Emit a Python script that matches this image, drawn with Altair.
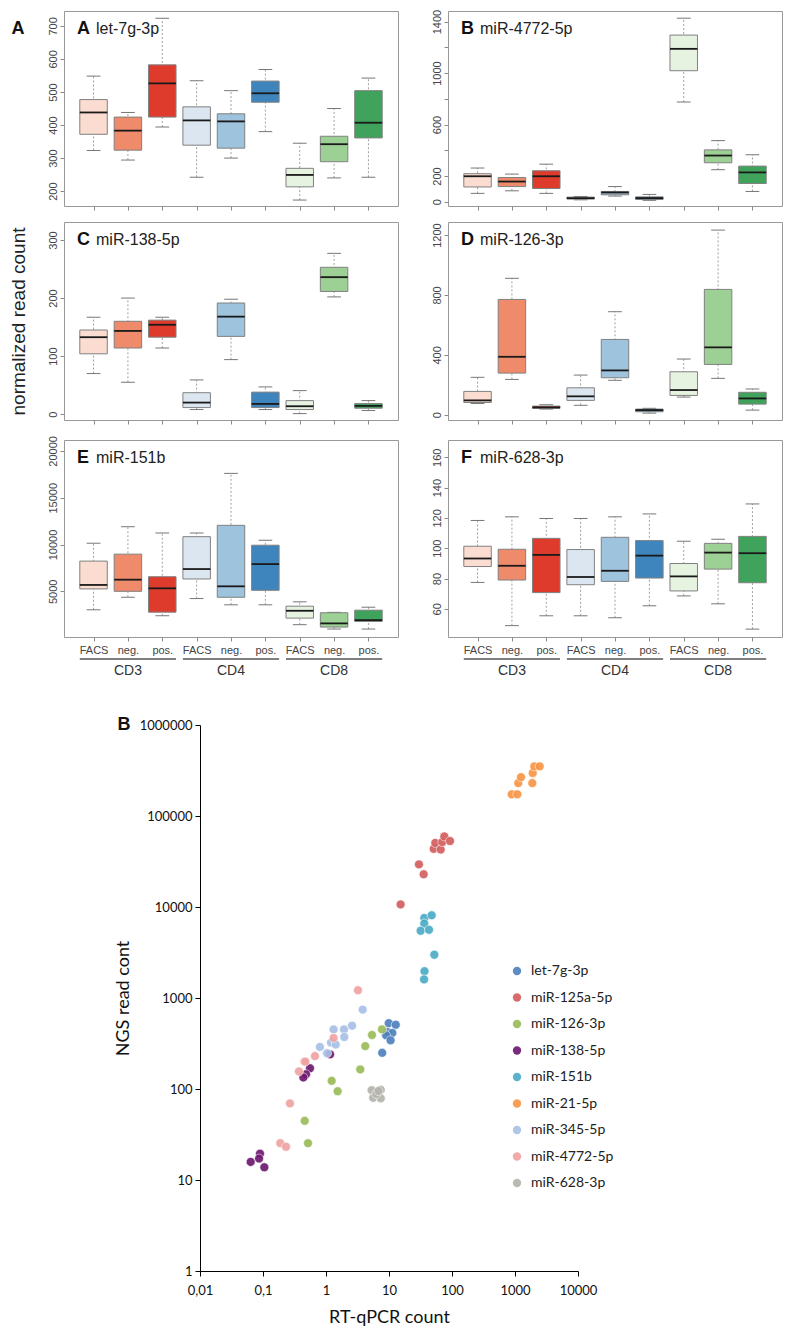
import json
import altair as alt
import pandas as pd

# ---------------- data: box-plot panels ----------------
cells = ["CD3", "CD4", "CD8"]
subsets = ["FACS", "neg.", "pos."]
box_colors = ["#FBDCD0", "#EF8A6B", "#DE3B2C",
              "#DCE6F0", "#9DC3DD", "#3E85BD",
              "#E5F3E0", "#9DD094", "#3FA35B"]

panel_letters = ["A", "B", "C", "D", "E", "F"]
panel_names = ["let-7g-3p", "miR-4772-5p", "miR-138-5p", "miR-126-3p", "miR-151b", "miR-628-3p"]
figure_labels = ["A", "B"]
y_title = "normalized read count"

A_lo = [323, 294, 394, 242, 300, 380, 173, 240, 242]
A_q1 = [372, 324, 424, 339, 330, 469, 213, 289, 361]
A_med = [438, 383, 526, 414, 411, 496, 249, 342, 407]
A_q3 = [477, 424, 582, 455, 434, 533, 269, 366, 504]
A_hi = [548, 438, 723, 534, 504, 568, 345, 450, 542]

B_lo = [65, 85, 65, 15, 44, 11, 775, 249, 80]
B_q1 = [115, 118, 103, 21, 54, 18, 1018, 303, 142]
B_med = [198, 157, 198, 28, 72, 28, 1188, 359, 228]
B_q3 = [218, 188, 241, 36, 80, 38, 1295, 403, 277]
B_hi = [262, 215, 292, 41, 118, 57, 1426, 475, 365]

C_lo = [70, 55, 114, 8, 94, 8, 1, 202, 6.3]
C_q1 = [104, 114, 132.6, 11.4, 134, 11.4, 8, 211.4, 10.3]
C_med = [132.6, 143.4, 154, 20, 168, 17.7, 13.7, 236, 14.3]
C_q3 = [145, 160, 162, 37, 191.5, 38, 23.4, 253, 18.3]
C_hi = [167, 200, 167, 59, 198, 47, 40.6, 277, 23.4]

D_lo = [75, 236, 38, 63, 230, 11, 118, 243, 31]
D_q1 = [82, 278, 43, 96, 247, 20, 129, 336, 71]
D_med = [96, 387, 49, 123, 296, 31, 165, 450, 109]
D_q3 = [156, 770, 58, 180, 503, 38, 287, 837, 150]
D_hi = [250, 911, 67, 265, 688, 43, 372, 1233, 172]

E_lo = [3025, 4363, 2389, 4225, 3556, 3556, 1433, 966, 966]
E_q1 = [5255, 5000, 2771, 6316, 4363, 5106, 2134, 1178, 1783]
E_med = [5679, 6242, 5318, 7378, 5531, 7909, 2919, 1571, 1921]
E_q3 = [8227, 8970, 6560, 10839, 12049, 9926, 3408, 2707, 2983]
E_hi = [10138, 11900, 11231, 11231, 17600, 10456, 3875, 2750, 3301]

F_lo = [77.4, 48.9, 55.4, 55.4, 54.1, 62, 68.5, 63.3, 46.6]
F_q1 = [87.9, 79, 70.7, 75.9, 78.1, 80.3, 71.8, 86.2, 77.2]
F_med = [93.2, 88.4, 95.6, 81, 85.1, 95.1, 81.4, 97.1, 96.7]
F_q3 = [101.3, 99.3, 106.5, 99.1, 107.2, 105, 89.9, 103.2, 107.8]
F_hi = [118.3, 120.7, 119.6, 119.6, 120.7, 122.6, 104.6, 105.9, 129.2]

A_ticks = [200, 300, 400, 500, 600, 700]
B_ticks = [0, 200, 400, 600, 800, 1000, 1200, 1400]
B_shown = [0, 200, 600, 1000, 1400]
C_ticks = [0, 100, 200, 300]
D_ticks = [0, 400, 800, 1200]
E_ticks = [5000, 10000, 15000, 20000]
F_ticks = [60, 80, 100, 120, 140, 160]

# ---------------- data: scatter ----------------
mirnas = ["let-7g-3p", "miR-125a-5p", "miR-126-3p", "miR-138-5p", "miR-151b",
          "miR-21-5p", "miR-345-5p", "miR-4772-5p", "miR-628-3p"]
mirna_colors = ["#4F81BD", "#D35F5F", "#9BBB59", "#6E1A70", "#4BACC6",
                "#F79646", "#A9C1E6", "#EFA3A3", "#B4B4AC"]

let7g_x = [9.9, 12.8, 9.5, 11.3, 9.0, 10.6, 7.8]
let7g_y = [529, 508, 422, 413, 389, 343, 250]
mir125a_x = [15.3, 29.9, 35.5, 51.2, 54.3, 66.2, 70.2, 75.5, 93]
mir125a_y = [10670, 29400, 22900, 43500, 50600, 42800, 51800, 59700, 53100]
mir126_x = [7.74, 5.37, 4.2, 3.5, 1.23, 1.53, 0.459, 0.518]
mir126_y = [452, 392, 296, 164, 123, 94.5, 44.7, 25.4]
mir138_x = [1.16, 0.557, 0.482, 0.437, 0.0896, 0.0866, 0.0637, 0.105]
mir138_y = [240, 169, 145, 134, 19.5, 17.2, 15.8, 13.8]
mir151b_x = [36.3, 47.6, 36.3, 31.8, 43.1, 52.4, 36.6, 36.0]
mir151b_y = [7590, 8110, 6580, 5480, 5620, 2990, 1970, 1600]
mir21_x = [887, 1088, 1128, 1245, 1883, 1910, 2024, 2466]
mir21_y = [173000, 173000, 230000, 267000, 230000, 297000, 351000, 351000]
mir345_x = [3.82, 2.59, 1.93, 1.32, 1.95, 1.2, 1.43, 0.80, 1.04]
mir345_y = [745, 496, 452, 452, 373, 324, 308, 290, 247]
mir4772_x = [3.22, 1.32, 0.668, 0.453, 0.47, 0.372, 0.268, 0.188, 0.232]
mir4772_y = [1217, 364, 230, 200, 200, 156, 69.5, 25.4, 23.2]
mir628_x = [5.3, 7.4, 5.6, 7.4, 6.3, 6.8]
mir628_y = [97, 98, 80, 79, 88, 95]

x_ticks = [0.01, 0.1, 1, 10, 100, 1000, 10000]
y_ticks = [1, 10, 100, 1000, 10000, 100000, 1000000]

FONT = "Liberation Sans"
SFONT = "Lato"


def box_panel(i, lo, q1, med, q3, hi, ydom, yticks, yshown, width, height, left, bottom):
    df = pd.DataFrame({
        "cell": [c for c in cells for _ in subsets],
        "subset": [s for _ in cells for s in subsets],
        "lo": lo, "q1": q1, "med": med, "q3": q3, "hi": hi,
    })
    df["key"] = df["cell"] + " " + df["subset"]
    keys = list(df["key"])

    xs = alt.Scale(domain=[0.14, 9.86], nice=False, zero=False)
    ys = alt.Scale(domain=ydom, nice=False, zero=False)
    if left:
        ttl = y_title if i == 2 else " "
    else:
        ttl = None
    yax = alt.Axis(values=yticks, format="d",
                   labelExpr="indexof(%s, datum.value) >= 0 ? datum.label : ''" % json.dumps(yshown),
                   labelAngle=270, labelFontSize=11, labelFont=FONT, labelColor="#444",
                   tickColor="#8a8a8a", tickSize=4, labelPadding=2, domain=False, grid=False,
                   labelOverlap=False, title=ttl, titleFont=FONT, titleFontSize=19,
                   titleFontWeight="normal", titleColor="#222", titlePadding=19)
    xax = alt.Axis(values=list(range(1, 10)), labels=bottom,
                   labelExpr="%s[(datum.value - 1) %% 3]" % json.dumps(subsets),
                   labelFlush=False, labelOverlap=False, labelFontSize=11, labelFont=FONT,
                   labelColor="#444", labelPadding=3, tickColor="#8a8a8a", tickSize=4,
                   domain=False, grid=False, title=None)

    base = alt.Chart(df).transform_window(pos="row_number()").transform_calculate(
        b0="datum.pos - 0.4", b1="datum.pos + 0.4",
        c0="datum.pos - 0.2", c1="datum.pos + 0.2")

    whisk = base.mark_rule(color="#888", strokeDash=[2, 2], strokeWidth=0.8).encode(
        x=alt.X("pos:Q", scale=xs, axis=xax),
        y=alt.Y("lo:Q", scale=ys, axis=yax), y2="hi:Q")
    caplo = base.mark_rule(color="#777", strokeWidth=1).encode(
        x=alt.X("c0:Q", scale=xs, axis=xax), x2="c1:Q",
        y=alt.Y("lo:Q", scale=ys, axis=yax))
    caphi = base.mark_rule(color="#777", strokeWidth=1).encode(
        x=alt.X("c0:Q", scale=xs, axis=xax), x2="c1:Q",
        y=alt.Y("hi:Q", scale=ys, axis=yax))
    box = base.mark_bar(stroke="#808080", strokeWidth=1).encode(
        x=alt.X("b0:Q", scale=xs, axis=xax), x2="b1:Q",
        y=alt.Y("q1:Q", scale=ys, axis=yax), y2="q3:Q",
        color=alt.Color("key:N", scale=alt.Scale(domain=keys, range=box_colors), legend=None))
    medr = base.mark_rule(color="#1a1a1a", strokeWidth=1.8).encode(
        x=alt.X("b0:Q", scale=xs, axis=xax), x2="b1:Q",
        y=alt.Y("med:Q", scale=ys, axis=yax))

    lt = alt.Chart(pd.DataFrame({"t": [panel_letters[i]]})).mark_text(
        align="left", baseline="alphabetic", font=FONT, fontSize=18, fontWeight="bold",
        color="#111").encode(x=alt.value(13), y=alt.value(23), text="t:N")
    nt = alt.Chart(pd.DataFrame({"t": [panel_names[i]]})).mark_text(
        align="left", baseline="alphabetic", font=FONT, fontSize=16, color="#222").encode(
        x=alt.value(32), y=alt.value(23), text="t:N")

    layers = [whisk, caplo, caphi, box, medr, lt, nt]

    if i == 0:
        fig = alt.Chart(pd.DataFrame({"t": [figure_labels[0]]})).mark_text(
            align="center", baseline="alphabetic", font=FONT, fontSize=18, fontWeight="bold",
            color="#111").encode(x=alt.value(-46), y=alt.value(23), text="t:N")
        layers.append(fig)

    if bottom:
        gdf = pd.DataFrame({"cell": cells})
        gbase = alt.Chart(gdf).transform_window(gi="row_number()").transform_calculate(
            s="(datum.gi - 1) * 3 + 1 - 0.4",
            e="(datum.gi - 1) * 3 + 3 + 0.4",
            m="(datum.gi - 1) * 3 + 2")
        grule = gbase.mark_rule(color="#555", strokeWidth=1.5).encode(
            x=alt.X("s:Q", scale=xs, axis=xax), x2="e:Q", y=alt.value(height + 22))
        gtext = gbase.mark_text(font=FONT, fontSize=14, color="#333", baseline="middle").encode(
            x=alt.X("m:Q", scale=xs, axis=xax), y=alt.value(height + 34), text="cell:N")
        layers += [grule, gtext]

    return alt.layer(*layers).properties(
        width=width, height=height,
        view=alt.ViewBackground(stroke="#999", strokeWidth=1))


W_L, W_R = 334, 334
pA = box_panel(0, A_lo, A_q1, A_med, A_q3, A_hi, [155, 745], A_ticks, A_ticks, W_L, 195, True, False)
pB = box_panel(1, B_lo, B_q1, B_med, B_q3, B_hi, [-33, 1482], B_ticks, B_shown, W_R, 195, False, False)
pC = box_panel(2, C_lo, C_q1, C_med, C_q3, C_hi, [-10, 331], C_ticks, C_ticks, W_L, 198, True, False)
pD = box_panel(3, D_lo, D_q1, D_med, D_q3, D_hi, [-35, 1287], D_ticks, D_ticks, W_R, 198, False, False)
pE = box_panel(4, E_lo, E_q1, E_med, E_q3, E_hi, [117, 21168], E_ticks, E_ticks, W_L, 197, True, True)
pF = box_panel(5, F_lo, F_q1, F_med, F_q3, F_hi, [41.4, 171.4], F_ticks, F_ticks, W_R, 197, False, True)

top = alt.vconcat(
    alt.hconcat(pA, pB, spacing=31),
    alt.hconcat(pC, pD, spacing=31),
    alt.hconcat(pE, pF, spacing=31),
    spacing=10,
)

# ---------------- scatter ----------------
series = [
    ("let-7g-3p", let7g_x, let7g_y),
    ("miR-125a-5p", mir125a_x, mir125a_y),
    ("miR-126-3p", mir126_x, mir126_y),
    ("miR-138-5p", mir138_x, mir138_y),
    ("miR-151b", mir151b_x, mir151b_y),
    ("miR-21-5p", mir21_x, mir21_y),
    ("miR-345-5p", mir345_x, mir345_y),
    ("miR-4772-5p", mir4772_x, mir4772_y),
    ("miR-628-3p", mir628_x, mir628_y),
]
rows = []
for name, xv, yv in series:
    for a, b in zip(xv, yv):
        rows.append({"miRNA": name, "qpcr": a, "ngs": b})
sdf = pd.DataFrame(rows)

pts = alt.Chart(sdf).mark_circle(size=80, opacity=0.92, stroke="white", strokeWidth=0.6).encode(
    x=alt.X("qpcr:Q", scale=alt.Scale(type="log", domain=[0.01, 10000], nice=False),
            axis=alt.Axis(values=x_ticks, labelExpr="replace(toString(datum.value), '.', ',')",
                          title="RT-qPCR count", labelFont=SFONT, labelFontSize=13, labelColor="#111",
                          labelPadding=8, labelFlush=False, labelOverlap=False,
                          tickColor="#000", tickSize=5, domainColor="#000", grid=False,
                          titleFont=SFONT, titleFontSize=18, titleFontWeight="normal",
                          titleColor="#111", titlePadding=11)),
    y=alt.Y("ngs:Q", scale=alt.Scale(type="log", domain=[1, 1000000], nice=False),
            axis=alt.Axis(values=y_ticks, labelExpr="toString(datum.value)",
                          title="NGS read cont", labelFont=SFONT, labelFontSize=13, labelColor="#111",
                          labelPadding=3, labelFlush=False, labelOverlap=False,
                          tickColor="#000", tickSize=5, domainColor="#000", grid=False,
                          titleFont=SFONT, titleFontSize=18, titleFontWeight="normal",
                          titleColor="#111", titlePadding=7)),
    color=alt.Color("miRNA:N", scale=alt.Scale(domain=mirnas, range=mirna_colors),
                    legend=alt.Legend(title=None, orient="none", legendX=446, legendY=239,
                                      labelFont=SFONT, labelFontSize=14, labelColor="#222",
                                      symbolType="circle", symbolSize=70, symbolOpacity=0.92,
                                      symbolStrokeWidth=0, rowPadding=12.5, labelOffset=7,
                                      padding=0)),
)
blab = alt.Chart(pd.DataFrame({"t": [figure_labels[1]]})).mark_text(
    align="center", baseline="middle", font=FONT, fontSize=18, fontWeight="bold",
    color="#111").encode(x=alt.value(-76), y=alt.value(0), text="t:N")

scatter = alt.layer(pts, blab).properties(width=378, height=546)

spacer = alt.Chart(pd.DataFrame({"v": [0]})).mark_point(opacity=0, size=1).encode(
    x=alt.value(10), y=alt.value(0)).properties(width=28, height=2)

chart = alt.vconcat(
    top,
    alt.hconcat(spacer, scatter, spacing=20),
    spacing=36,
).resolve_scale(color="independent").properties(
    padding=0, background="white").configure_view(stroke="transparent")

chart.save("out.html", embed_options={"renderer": "svg", "actions": False})
